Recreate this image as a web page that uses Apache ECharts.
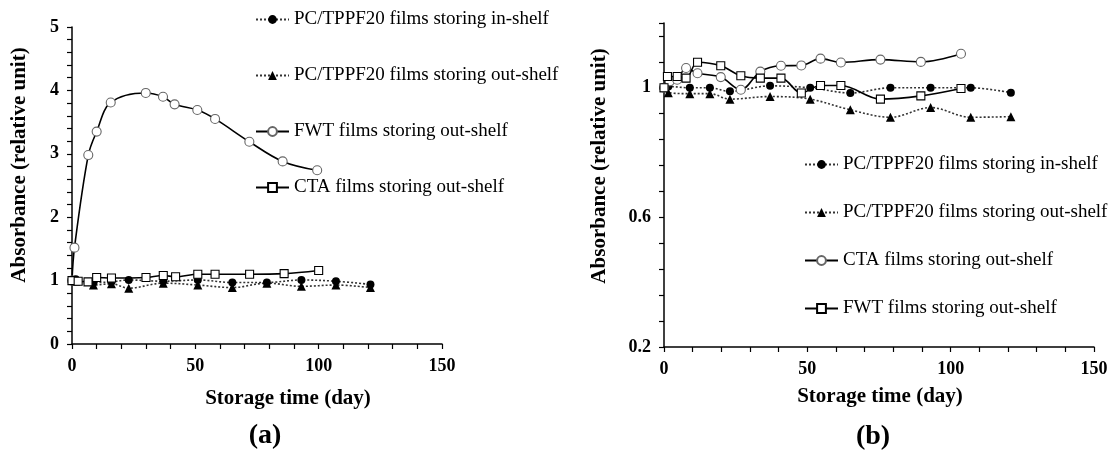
<!DOCTYPE html>
<html>
<head>
<meta charset="utf-8">
<script src="https://cdn.jsdelivr.net/npm/echarts@6/dist/echarts.min.js"></script>
<style>html,body{margin:0;padding:0;background:#fff}#c{width:1113px;height:453px}</style>
</head>
<body>
<div id="c"></div>
<script>
// ---- Data: chart (a) [day, absorbance] ----
const aInShelf  = [[0,1.0],[1.5,1.02],[8.7,0.97],[16,0.98],[23,1.01],[37,0.99],[51,1.01],[65,0.97],[79,0.97],[93,1.01],[107,0.99],[121,0.94]];
const aOutShelf = [[0,1.0],[1.5,0.99],[8.7,0.93],[16,0.95],[23,0.88],[37,0.96],[51,0.93],[65,0.89],[79,0.96],[93,0.91],[107,0.93],[121,0.89]];
const aFWT      = [[0,1.0],[1,1.52],[6.6,2.98],[10,3.35],[15.7,3.81],[29.9,3.96],[36.9,3.90],[41.6,3.78],[50.8,3.69],[58,3.55],[71.9,3.19],[85.4,2.88],[99.4,2.74]];
const aCTA      = [[0,1.0],[2.5,0.99],[6.5,0.98],[10,1.05],[16,1.04],[30,1.05],[37,1.08],[42,1.06],[51,1.10],[58,1.10],[72,1.10],[86,1.11],[100,1.16]];
// ---- Data: chart (b) [day, absorbance] ----
const bInShelf  = [[0,1.0],[1.5,1.004],[9,1.0],[16,1.0],[23,0.989],[37,1.006],[51,1.0],[65,0.984],[79,1.0],[93,1.0],[107,1.0],[121,0.985]];
const bOutShelf = [[0,1.0],[1.5,0.985],[9,0.982],[16,0.982],[23,0.965],[37,0.973],[51,0.965],[65,0.932],[79,0.909],[93,0.939],[107,0.909],[121,0.911]];
const bCTA      = [[0,1.0],[2,1.02],[4.6,1.025],[7.7,1.061],[11.7,1.045],[19.8,1.033],[26.8,0.994],[33.6,1.050],[40.8,1.068],[47.9,1.069],[54.6,1.090],[61.7,1.078],[75.5,1.087],[89.6,1.080],[103.6,1.105]];
const bFWT      = [[0,1.0],[1.2,1.035],[4.6,1.035],[7.7,1.03],[11.7,1.079],[19.8,1.068],[26.8,1.037],[33.6,1.03],[40.8,1.03],[47.9,0.984],[54.6,1.007],[61.7,1.007],[75.5,0.965],[89.6,0.975],[103.6,0.998]];
// ---- Labels ----
const nameIn  = 'PC/TPPF20 films storing in-shelf';
const nameOut = 'PC/TPPF20 films storing out-shelf';
const nameFWT = 'FWT films storing out-shelf';
const nameCTA = 'CTA films storing out-shelf';
const xTitle = 'Storage time (day)';
const yTitle = 'Absorbance (relative unit)';
const panelA = '(a)', panelB = '(b)';

const serif = 'Liberation Serif, Times New Roman, serif';
const axisCommon = {
  axisLine:{show:true,lineStyle:{color:'#000',width:1.5}},
  axisTick:{show:true,inside:false,length:5,lineStyle:{color:'#000',width:1.2}},
  splitLine:{show:false},
  axisLabel:{color:'#000',fontFamily:serif,fontWeight:'bold',fontSize:18,margin:13}
};
function xAxis(gi){
  return Object.assign({}, axisCommon, {type:'value',gridIndex:gi,min:0,max:150,interval:10,
    axisLabel:Object.assign({}, axisCommon.axisLabel,{formatter:v=>(Math.round(v)%50===0?String(Math.round(v)):'')})});
}
const dotted = (name,data,sym,xi)=>({name,type:'line',xAxisIndex:xi,yAxisIndex:xi,data,smooth:0.35,
  symbol:sym,symbolSize:sym==='triangle'?9:8,showSymbol:true,
  lineStyle:{color:'#333',width:1.6,type:[2,2]},itemStyle:{color:'#000',borderColor:'#000',borderWidth:0}});
const solid = (name,data,sym,xi,bc)=>({name,type:'line',xAxisIndex:xi,yAxisIndex:xi,data,smooth:0.35,
  symbol:sym,symbolSize:sym==='rect'?8:9,showSymbol:true,
  lineStyle:{color:'#000',width:1.6,type:'solid'},itemStyle:{color:'#fff',borderColor:bc,borderWidth:1.1}});

const legendCommon = {orient:'vertical',itemWidth:33,itemHeight:11,itemGap:0,
  textStyle:{color:'#000',fontFamily:serif,fontSize:19,lineHeight:18},
  formatter:n=>n.replace(/^[ab]:/,''),selectedMode:false};

const option = {
  animation:false,
  backgroundColor:'#fff',
  grid:[
    {left:72,top:27,width:370,height:317},
    {left:664,top:23,width:430,height:324}
  ],
  xAxis:[xAxis(0),xAxis(1)],
  yAxis:[
    Object.assign({}, axisCommon,{type:'value',gridIndex:0,min:0,max:5,interval:0.2,
      axisLabel:Object.assign({},axisCommon.axisLabel,{formatter:v=>(Math.abs(v-Math.round(v))<1e-6?String(Math.round(v)):'')})}),
    Object.assign({}, axisCommon,{type:'value',gridIndex:1,min:0.2,max:1.2,interval:0.08,
      axisLabel:Object.assign({},axisCommon.axisLabel,{formatter:v=>{const k=(v-0.2)/0.4;return Math.abs(k-Math.round(k))<1e-6?String(Math.round(v*10)/10):'';}})})
  ],
  legend:[
    Object.assign({},legendCommon,{left:250,top:5,itemGap:37,data:['a:'+nameIn,'a:'+nameOut,'a:'+nameFWT,'a:'+nameCTA]}),
    Object.assign({},legendCommon,{left:799,top:150,itemGap:29,data:['b:'+nameIn,'b:'+nameOut,'b:'+nameCTA,'b:'+nameFWT]})
  ],
  series:[
    dotted('a:'+nameIn,aInShelf,'circle',0),
    dotted('a:'+nameOut,aOutShelf,'triangle',0),
    solid('a:'+nameFWT,aFWT,'circle',0,'#666'),
    solid('a:'+nameCTA,aCTA,'rect',0,'#000'),
    dotted('b:'+nameIn,bInShelf,'circle',1),
    dotted('b:'+nameOut,bOutShelf,'triangle',1),
    solid('b:'+nameCTA,bCTA,'circle',1,'#666'),
    solid('b:'+nameFWT,bFWT,'rect',1,'#000')
  ],
  graphic:[
    {type:'text',x:20,y:165,rotation:Math.PI/2,style:{text:yTitle,font:'bold 21px '+serif,fill:'#000',textAlign:'center',textVerticalAlign:'middle'}},
    {type:'text',x:600,y:166,rotation:Math.PI/2,style:{text:yTitle,font:'bold 21px '+serif,fill:'#000',textAlign:'center',textVerticalAlign:'middle'}},
    {type:'text',x:288,y:399,style:{text:xTitle,font:'bold 21px '+serif,fill:'#000',textAlign:'center',textVerticalAlign:'middle'}},
    {type:'text',x:880,y:397,style:{text:xTitle,font:'bold 21px '+serif,fill:'#000',textAlign:'center',textVerticalAlign:'middle'}},
    {type:'text',x:265,y:436,style:{text:panelA,font:'bold 28px '+serif,fill:'#000',textAlign:'center',textVerticalAlign:'middle'}},
    {type:'text',x:873,y:437,style:{text:panelB,font:'bold 28px '+serif,fill:'#000',textAlign:'center',textVerticalAlign:'middle'}}
  ]
};
const chart = echarts.init(document.getElementById('c'),null,{renderer:'canvas'});
chart.setOption(option);
</script>
</body>
</html>
